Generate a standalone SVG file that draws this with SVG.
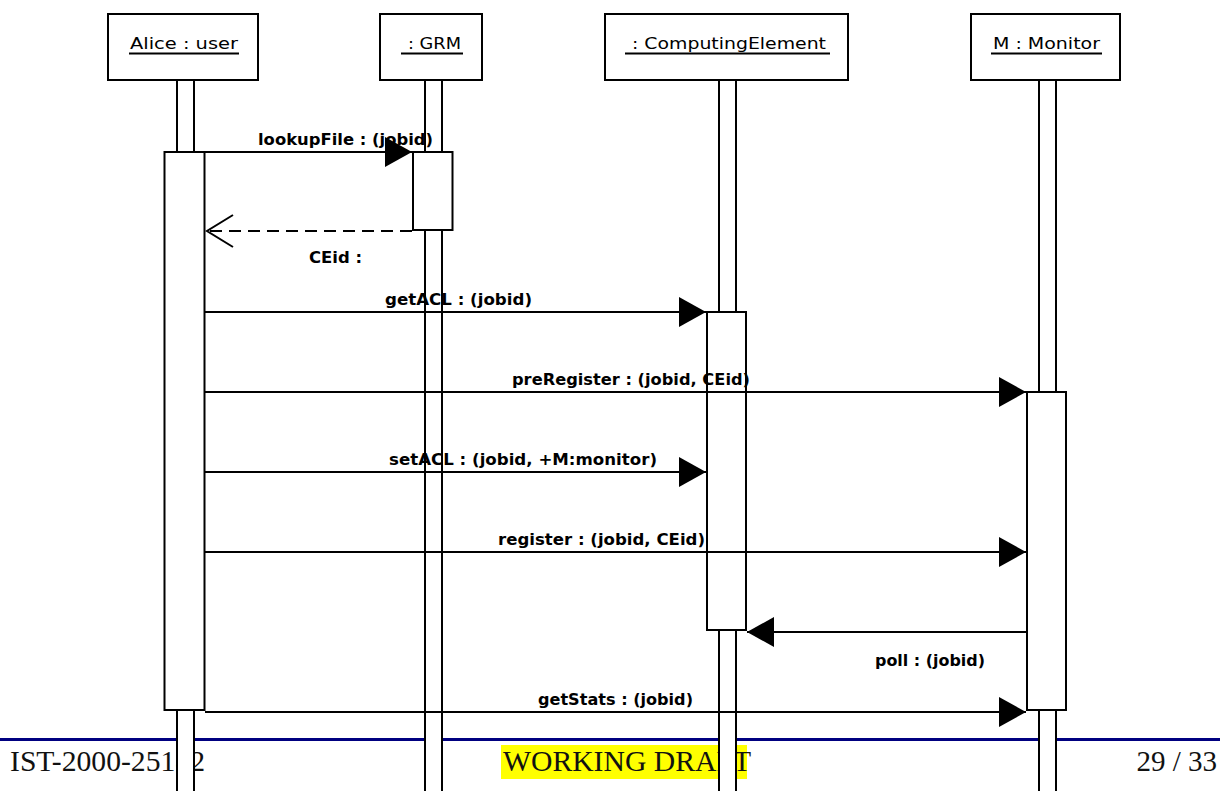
<svg xmlns="http://www.w3.org/2000/svg" width="1220" height="791" viewBox="0 0 1220 791">
  <style>
    .box { fill: #ffffff; stroke: #000000; stroke-width: 2; }
    .title { font-family: "DejaVu Sans", "Liberation Sans", sans-serif; font-size: 15px; fill: #000000; }
    .uline { stroke: #000000; stroke-width: 1.8; }
    .msg { fill: none; stroke: #000000; stroke-width: 2; }
    .ret { fill: none; stroke: #000000; stroke-width: 2; stroke-dasharray: 12 7; }
    .lbl { font-family: "DejaVu Sans", "Liberation Sans", sans-serif; font-size: 15px; font-weight: bold; fill: #000000; }
    .foot { font-family: "Liberation Serif", "Times New Roman", serif; font-size: 29px; fill: #111111; }
  </style>
  <defs>
    <marker id="solidHead" viewBox="0 0 27 30" refX="27" refY="15" markerWidth="27" markerHeight="30" markerUnits="userSpaceOnUse" orient="auto">
      <path d="M0,0 L27,15 L0,30 Z" fill="#000000"/>
    </marker>
    <marker id="openHead" viewBox="-2 -2 30 36" refX="26" refY="16" markerWidth="30" markerHeight="36" markerUnits="userSpaceOnUse" orient="auto">
      <path d="M0,0 L26,16 L0,32" fill="none" stroke="#000000" stroke-width="2"/>
    </marker>
  </defs>

  <rect x="0" y="0" width="1220" height="791" fill="#ffffff"/>

  <!-- page footer -->
  <g id="footer">
    <rect x="0" y="738" width="1220" height="3" fill="#000080"/>
    <rect x="501" y="745" width="246" height="34" fill="#ffff00"/>
    <text class="foot" x="10" y="771" textLength="195" lengthAdjust="spacingAndGlyphs">IST-2000-25182</text>
    <text class="foot" x="503" y="771" textLength="248" lengthAdjust="spacingAndGlyphs">WORKING DRAFT</text>
    <text class="foot" x="1217" y="771" text-anchor="end">29 / 33</text>
  </g>

  <!-- participants: head box, lifeline, activations -->
  <g id="alice">
    <rect class="box" x="177" y="80" width="17" height="730"/>
    <rect class="box" x="108" y="14" width="150" height="66"/>
    <text class="title" x="130" y="49" textLength="108" lengthAdjust="spacingAndGlyphs">Alice : user</text>
    <line class="uline" x1="129" y1="53.5" x2="239" y2="53.5"/>
    <rect class="box" x="164.5" y="152" width="40" height="558"/>
  </g>

  <g id="grm">
    <rect class="box" x="425" y="80" width="17" height="730"/>
    <rect class="box" x="380" y="14" width="102" height="66"/>
    <text class="title" x="408" y="49" textLength="53" lengthAdjust="spacingAndGlyphs">: GRM</text>
    <line class="uline" x1="401" y1="53.5" x2="463" y2="53.5"/>
    <rect class="box" x="413" y="152" width="39.5" height="78"/>
  </g>

  <g id="computingElement">
    <rect class="box" x="719" y="80" width="17" height="730"/>
    <rect class="box" x="605" y="14" width="243" height="66"/>
    <text class="title" x="632" y="49" textLength="194" lengthAdjust="spacingAndGlyphs">: ComputingElement</text>
    <line class="uline" x1="625" y1="53.5" x2="830" y2="53.5"/>
    <rect class="box" x="707" y="312" width="39" height="318"/>
  </g>

  <g id="monitor">
    <rect class="box" x="1039" y="80" width="17" height="730"/>
    <rect class="box" x="971" y="14" width="149" height="66"/>
    <text class="title" x="993" y="49" textLength="107" lengthAdjust="spacingAndGlyphs">M : Monitor</text>
    <line class="uline" x1="991" y1="53.5" x2="1102" y2="53.5"/>
    <rect class="box" x="1027" y="392" width="39" height="318"/>
  </g>

  <!-- messages -->
  <g id="connectors">
    <line class="msg" x1="205" y1="152" x2="412" y2="152" marker-end="url(#solidHead)"/>
    <line class="ret" x1="412" y1="231" x2="207" y2="231" marker-end="url(#openHead)"/>
    <line class="msg" x1="205" y1="312" x2="706" y2="312" marker-end="url(#solidHead)"/>
    <line class="msg" x1="205" y1="392" x2="1026" y2="392" marker-end="url(#solidHead)"/>
    <line class="msg" x1="205" y1="472" x2="706" y2="472" marker-end="url(#solidHead)"/>
    <line class="msg" x1="205" y1="552" x2="1026" y2="552" marker-end="url(#solidHead)"/>
    <line class="msg" x1="1026" y1="632" x2="747" y2="632" marker-end="url(#solidHead)"/>
    <line class="msg" x1="205" y1="712" x2="1026" y2="712" marker-end="url(#solidHead)"/>

    <text class="lbl" x="258" y="145" textLength="175" lengthAdjust="spacingAndGlyphs">lookupFile : (jobid)</text>
    <text class="lbl" x="309" y="263" textLength="53" lengthAdjust="spacingAndGlyphs">CEid :</text>
    <text class="lbl" x="385" y="305" textLength="147" lengthAdjust="spacingAndGlyphs">getACL : (jobid)</text>
    <text class="lbl" x="512" y="385" textLength="238" lengthAdjust="spacingAndGlyphs">preRegister : (jobid, CEid)</text>
    <text class="lbl" x="389" y="465" textLength="268" lengthAdjust="spacingAndGlyphs">setACL : (jobid, +M:monitor)</text>
    <text class="lbl" x="498" y="545" textLength="207" lengthAdjust="spacingAndGlyphs">register : (jobid, CEid)</text>
    <text class="lbl" x="875" y="666" textLength="110" lengthAdjust="spacingAndGlyphs">poll : (jobid)</text>
    <text class="lbl" x="538" y="705" textLength="155" lengthAdjust="spacingAndGlyphs">getStats : (jobid)</text>
  </g>
</svg>
